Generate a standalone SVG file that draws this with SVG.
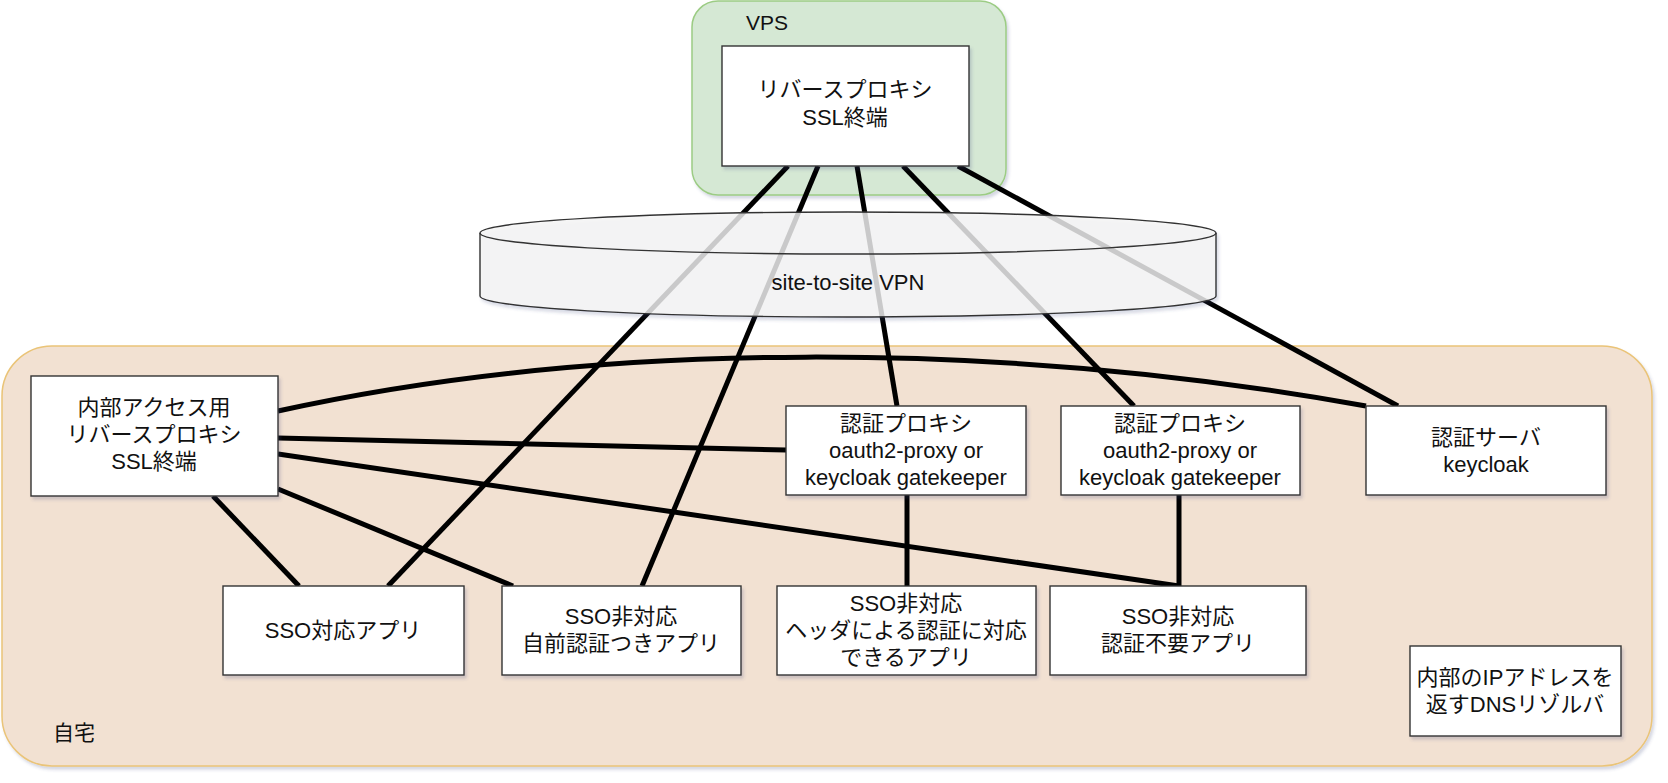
<svg xmlns="http://www.w3.org/2000/svg" width="1668" height="783" viewBox="0 0 1668 783">
  <defs>
    <filter id="shadow" x="-5%" y="-5%" width="110%" height="120%">
      <feDropShadow dx="2" dy="3" stdDeviation="1.5" flood-color="#405080" flood-opacity="0.22"/>
    </filter>
    <style>
      text { font-family: "Liberation Sans", "Noto Sans CJK JP", sans-serif; font-size: 22px; fill: #111; }
      .c { text-anchor: middle; dominant-baseline: central; }
      .lbl { font-size: 21px; dominant-baseline: central; }
      .box { fill: #ffffff; stroke: #333333; stroke-width: 1.4; filter: url(#shadow); }
      .edge { fill: none; stroke: #000000; stroke-width: 5; }
    </style>
  </defs>

  <!-- zones -->
  <g id="zone-vps">
    <rect x="692" y="1" width="314" height="194" rx="26" fill="#d5e8d4" stroke="#9ccc84" stroke-width="1.5" filter="url(#shadow)"/>
    <text class="lbl" x="746" y="22">VPS</text>
  </g>
  <g id="zone-home">
    <rect x="2" y="346" width="1650" height="420" rx="50" fill="#f2e1d2" stroke="#eac478" stroke-width="1.5" filter="url(#shadow)"/>
    <text class="lbl" x="53" y="732">自宅</text>
  </g>

  <!-- connectors -->
  <g id="connectors">
    <line class="edge" x1="788" y1="166" x2="388" y2="586"/>
    <line class="edge" x1="818" y1="166" x2="642" y2="586"/>
    <line class="edge" x1="857" y1="166" x2="897" y2="406"/>
    <line class="edge" x1="903" y1="166" x2="1134" y2="406"/>
    <line class="edge" x1="958" y1="166" x2="1398" y2="406"/>
    <path class="edge" d="M278,411 C600,340 1000,340 1366,406"/>
    <line class="edge" x1="278" y1="438" x2="786" y2="450"/>
    <line class="edge" x1="278" y1="454" x2="1179" y2="586"/>
    <line class="edge" x1="278" y1="489" x2="513" y2="586"/>
    <line class="edge" x1="213" y1="496" x2="299" y2="586"/>
    <line class="edge" x1="907" y1="495" x2="907" y2="586"/>
    <line class="edge" x1="1179" y1="495" x2="1179" y2="586"/>
  </g>

  <!-- VPN cylinder, drawn over the links -->
  <g id="vpn">
    <path d="M480,233 A368,21 0 0 1 1216,233 L1216,296 A368,21 0 0 1 480,296 Z" fill="#f5f5f5" fill-opacity="0.8" stroke="#333333" stroke-width="1.4" filter="url(#shadow)"/>
    <path d="M480,233 A368,21 0 0 0 1216,233" fill="none" stroke="#333333" stroke-width="1.4"/>
    <text class="c" x="848" y="282">site-to-site VPN</text>
  </g>

  <!-- nodes -->
  <g id="vps-proxy">
    <rect class="box" x="722" y="46" width="247" height="120"/>
    <text class="c" x="845" y="89">リバースプロキシ</text>
    <text class="c" x="845" y="117">SSL終端</text>
  </g>
  <g id="internal-proxy">
    <rect class="box" x="31" y="376" width="247" height="120"/>
    <text class="c" x="154" y="407">内部アクセス用</text>
    <text class="c" x="154" y="434">リバースプロキシ</text>
    <text class="c" x="154" y="461">SSL終端</text>
  </g>
  <g id="auth-proxy-1">
    <rect class="box" x="786" y="406" width="240" height="89"/>
    <text class="c" x="906" y="423">認証プロキシ</text>
    <text class="c" x="906" y="450">oauth2-proxy or</text>
    <text class="c" x="906" y="477">keycloak gatekeeper</text>
  </g>
  <g id="auth-proxy-2">
    <rect class="box" x="1061" y="406" width="239" height="89"/>
    <text class="c" x="1180" y="423">認証プロキシ</text>
    <text class="c" x="1180" y="450">oauth2-proxy or</text>
    <text class="c" x="1180" y="477">keycloak gatekeeper</text>
  </g>
  <g id="auth-server">
    <rect class="box" x="1366" y="406" width="240" height="89"/>
    <text class="c" x="1486" y="437">認証サーバ</text>
    <text class="c" x="1486" y="464">keycloak</text>
  </g>
  <g id="app-sso">
    <rect class="box" x="223" y="586" width="241" height="89"/>
    <text class="c" x="343" y="630">SSO対応アプリ</text>
  </g>
  <g id="app-own-auth">
    <rect class="box" x="502" y="586" width="239" height="89"/>
    <text class="c" x="621" y="616">SSO非対応</text>
    <text class="c" x="621" y="643">自前認証つきアプリ</text>
  </g>
  <g id="app-header-auth">
    <rect class="box" x="777" y="586" width="259" height="89"/>
    <text class="c" x="906" y="603">SSO非対応</text>
    <text class="c" x="906" y="630">ヘッダによる認証に対応</text>
    <text class="c" x="906" y="657">できるアプリ</text>
  </g>
  <g id="app-no-auth">
    <rect class="box" x="1050" y="586" width="256" height="89"/>
    <text class="c" x="1178" y="616">SSO非対応</text>
    <text class="c" x="1178" y="643">認証不要アプリ</text>
  </g>
  <g id="dns">
    <rect class="box" x="1410" y="646" width="211" height="90"/>
    <text class="c" x="1515" y="677">内部のIPアドレスを</text>
    <text class="c" x="1515" y="704">返すDNSリゾルバ</text>
  </g>
</svg>
